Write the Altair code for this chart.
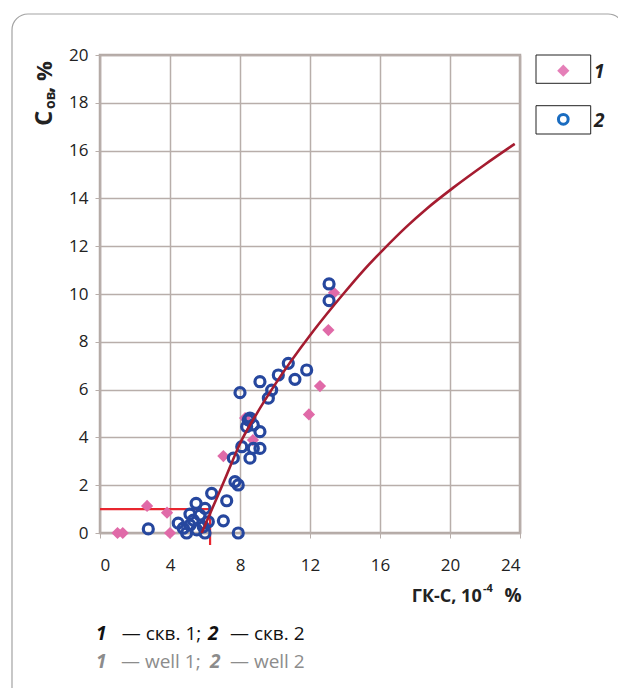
import altair as alt
import pandas as pd

# ---- data ----
# series 1 (well 1), pink diamonds
s1_x = [1.0, 1.3, 2.69, 3.83, 4.0, 7.05, 8.29, 8.74, 11.94, 12.57, 13.05, 13.37]
s1_y = [0.0, 0.0, 1.13, 0.85, 0.0, 3.22, 4.81, 3.89, 4.96, 6.15, 8.49, 10.05]

# series 2 (well 2), blue rings
s2_x = [10.76, 11.81, 10.19, 11.14, 9.14, 9.81, 9.62, 8.0, 8.47, 8.76, 9.14, 8.38, 8.57,
        8.1, 8.76, 9.14, 8.57, 7.62, 7.71, 7.9, 6.38, 7.24, 5.49, 6.0, 5.14, 7.05, 2.76,
        4.47, 7.9, 4.76, 5.14, 5.53, 5.9, 6.19, 4.95, 6.0, 5.33, 5.71, 13.09, 13.09]
s2_y = [7.1, 6.82, 6.61, 6.43, 6.33, 5.98, 5.64, 5.87, 4.73, 4.52, 4.24, 4.45, 4.81,
        3.61, 3.54, 3.54, 3.13, 3.13, 2.15, 2.01, 1.66, 1.35, 1.24, 1.03, 0.79, 0.51, 0.17,
        0.41, 0.0, 0.2, 0.33, 0.13, 0.26, 0.47, 0.0, 0.0, 0.54, 0.75, 10.42, 9.72]

# fitted curve
curve_x = [5.81, 6.47, 7.05, 8.1, 9.0, 9.81, 12.19, 13.9, 15.05, 16.19, 17.52, 18.67, 20.19, 22.0, 23.7]
curve_y = [0.0, 1.12, 2.1, 3.89, 5.05, 6.0, 8.45, 10.0, 10.98, 11.86, 12.82, 13.57, 14.45, 15.42, 16.28]

# threshold guide (red)
guide_x = [0.0, 6.29, 6.29]
guide_y = [1.0, 1.0, -0.5]

x_ticks = [0, 4, 8, 12, 16, 20, 24]
y_ticks = [0, 2, 4, 6, 8, 10, 12, 14, 16, 18, 20]

FONT = "Open Sans"
GRID = "#b8aeaa"

df1 = pd.DataFrame({"x": s1_x, "y": s1_y})
df2 = pd.DataFrame({"x": s2_x, "y": s2_y})
dfc = pd.DataFrame({"x": curve_x, "y": curve_y, "o": list(range(len(curve_x)))})
dfg = pd.DataFrame({"x": guide_x, "y": guide_y, "o": list(range(len(guide_x)))})

xs = alt.Scale(domain=[0, 24], nice=False)
ys = alt.Scale(domain=[0, 20], nice=False)

X = alt.X("x:Q", scale=xs, axis=alt.Axis(
    values=x_ticks, title=None, grid=True, gridColor=GRID, gridWidth=1.5,
    domain=False, tickSize=5, tickColor=GRID, labelFont=FONT, labelFontSize=17,
    labelColor="#222", labelPadding=19))
Y = alt.Y("y:Q", scale=ys, axis=alt.Axis(
    values=y_ticks, title=None, grid=True, gridColor=GRID, gridWidth=1.5,
    domain=False, tickSize=5, tickColor=GRID, labelFont=FONT, labelFontSize=17,
    labelColor="#222", labelPadding=7))

one = pd.DataFrame({"k": [0]})


def txt(s, x, y, size, weight="normal", style="normal", color="#222",
        align="left", angle=0, baseline="alphabetic"):
    return alt.Chart(one).mark_text(
        text=s, font=FONT, fontSize=size, fontWeight=weight, fontStyle=style,
        color=color, align=align, angle=angle, baseline=baseline
    ).encode(x=alt.value(x), y=alt.value(y))


def box(x, y, x2, y2, stroke, sw, radius=0):
    return alt.Chart(one).mark_rect(
        fill=None, stroke=stroke, strokeWidth=sw, cornerRadius=radius
    ).encode(x=alt.value(x), x2=alt.value(x2), y=alt.value(y), y2=alt.value(y2))


frame = box(-88, -41, 524, 700, "#a3a3a3", 1.2, 16)

guide = alt.Chart(dfg).mark_line(color="#e8262f", strokeWidth=2.2).encode(
    x=X, y=Y, order="o:Q")

pts1 = alt.Chart(df1).mark_point(
    shape="diamond", filled=True, size=150, color="#e06aa8", opacity=1
).encode(x=X, y=Y)

pts2 = alt.Chart(df2).mark_point(
    shape="circle", filled=False, size=100, color="#26479e", strokeWidth=3.2, opacity=1
).encode(x=X, y=Y)

curve = alt.Chart(dfc).mark_line(
    color="#a51c30", strokeWidth=2.6, interpolate="monotone"
).encode(x=X, y=Y, order="o:Q")

# legend
leg = [
    box(436, 0, 490.7, 28.3, "#222", 1),
    box(436, 50.7, 490.7, 79, "#222", 1),
    alt.Chart(one).mark_point(shape="diamond", filled=True, size=150, color="#e57fb8",
                              opacity=1).encode(x=alt.value(463.3), y=alt.value(15.7)),
    alt.Chart(one).mark_point(shape="circle", filled=False, size=95, color="#1a6cc0",
                              strokeWidth=3, opacity=1).encode(x=alt.value(463.3), y=alt.value(64.3)),
    txt("1", 494, 17, 19, "bold", "italic", "#222", baseline="middle"),
    txt("2", 494, 66, 19, "bold", "italic", "#222", baseline="middle"),
]

# axis titles
titles = [
    txt("C", -48, 71, 24, "bold", angle=270),
    txt("ов", -45, 54, 14, "bold", angle=270),
    txt(", %", -48, 38, 22, "bold", angle=270),
    txt("ГК-С, 10", 381.7, 546.7, 18, "bold", align="right"),
    txt("-4", 383, 537, 11, "bold"),
    txt("%", 421.7, 546.7, 19, "bold", align="right"),
]

# caption
cap = [
    txt("1", -4, 585, 19, "bold", "italic", "#111"),
    txt("— скв. 1;", 21.7, 585, 19, "normal", "normal", "#111"),
    txt("2", 108, 585, 19, "bold", "italic", "#111"),
    txt("— скв. 2", 130, 585, 19, "normal", "normal", "#111"),
    txt("1", -4, 613, 19, "bold", "italic", "#8c8c8c"),
    txt("— well 1;", 21, 613, 19, "normal", "normal", "#8c8c8c"),
    txt("2", 110, 613, 19, "bold", "italic", "#8c8c8c"),
    txt("— well 2", 130, 613, 19, "normal", "normal", "#8c8c8c"),
]

chart = alt.layer(
    frame, guide, pts1, pts2, curve, *leg, *titles, *cap
).properties(
    width=420, height=478,
    autosize=alt.AutoSizeParams(type="none"),
    padding={"left": 92, "top": 47, "right": 98, "bottom": 155},
    background="white",
).configure_view(stroke="#b3a9a5", strokeWidth=2.5)

chart.save("out.html", embed_options={"renderer": "svg", "actions": False})
